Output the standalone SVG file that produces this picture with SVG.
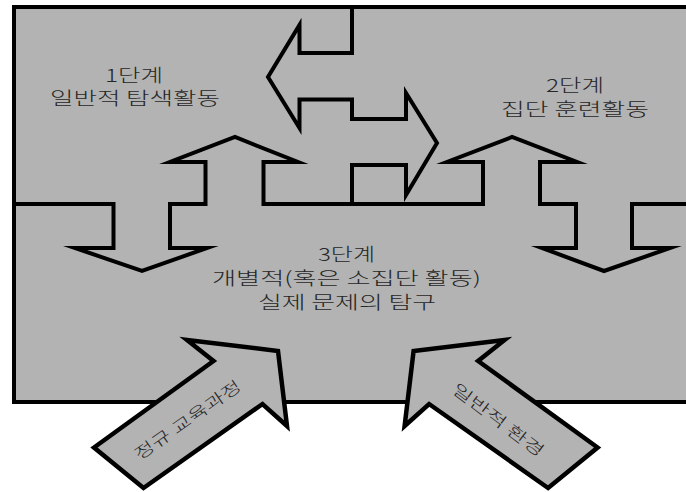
<svg xmlns="http://www.w3.org/2000/svg" width="686" height="492" viewBox="0 0 686 492">
<style>
.line{fill:none;stroke:#000;stroke-width:4;stroke-linejoin:miter;stroke-miterlimit:10}
.big{fill:#b3b3b3;stroke:#000;stroke-width:4.5;stroke-linejoin:miter;stroke-miterlimit:10}
.lbl{font-family:"Noto Sans CJK KR","Noto Sans",sans-serif;font-size:18px;font-weight:300;fill:#262626;text-anchor:middle}
.dlbl{font-family:"Noto Sans CJK KR","Noto Sans",sans-serif;font-size:16px;font-weight:300;fill:#262626;text-anchor:middle;dominant-baseline:central}
</style>
<rect width="686" height="492" fill="#fff"/>
<g id="frame">
<path d="M690,7 H14 V402 H690" fill="#b3b3b3" stroke="#000" stroke-width="4"/>
</g>
<g id="connectors">
<path class="line" d="M14,204 H113.5 V248 H75 L142,271 L207,248 H170 V204 H205.5 V162 H170 L235,137 L298,162 H263.5 V204 H483 V162 H447 L512,137 L577,162 H540 V204 H576 V248 H542 L604,271 L670,248 H632 V204 H688"/>
<path class="line" d="M352,7 V53 H299.5 V25 L268,77 L299.5,128 V99.5 H352 V119 H406 V93 L437,143 L406,195 V165 H352 V204"/>
</g>
<g id="stage1">
<text class="lbl" x="134" y="81.5" textLength="58" lengthAdjust="spacingAndGlyphs">1단계</text>
<text class="lbl" x="135" y="105" textLength="170" lengthAdjust="spacingAndGlyphs">일반적 탐색활동</text>
</g>
<g id="stage2">
<text class="lbl" x="575" y="91.5" textLength="58" lengthAdjust="spacingAndGlyphs">2단계</text>
<text class="lbl" x="575" y="116" textLength="148" lengthAdjust="spacingAndGlyphs">집단 훈련활동</text>
</g>
<g id="stage3">
<text class="lbl" x="346.5" y="260.5" textLength="57" lengthAdjust="spacingAndGlyphs">3단계</text>
<text class="lbl" x="346.5" y="284.5" textLength="269" lengthAdjust="spacingAndGlyphs">개별적(혹은 소집단 활동)</text>
<text class="lbl" x="347" y="309" textLength="178" lengthAdjust="spacingAndGlyphs">실제 문제의 탐구</text>
</g>
<g id="curriculum">
<polygon class="big" points="187,340 278,351 287,426 262.5,404 143.5,488 94,447.5 213.5,361"/>
<text class="dlbl" transform="translate(187,419) rotate(-35)" textLength="126" lengthAdjust="spacingAndGlyphs">정규 교육과정</text>
</g>
<g id="environment">
<polygon class="big" points="504.6,340 413.6,351 404.6,426 429.1,404 548.1,488 597.6,447.5 478.1,361"/>
<text class="dlbl" transform="translate(499,419) rotate(37)" textLength="110" lengthAdjust="spacingAndGlyphs">일반적 환경</text>
</g>
</svg>
